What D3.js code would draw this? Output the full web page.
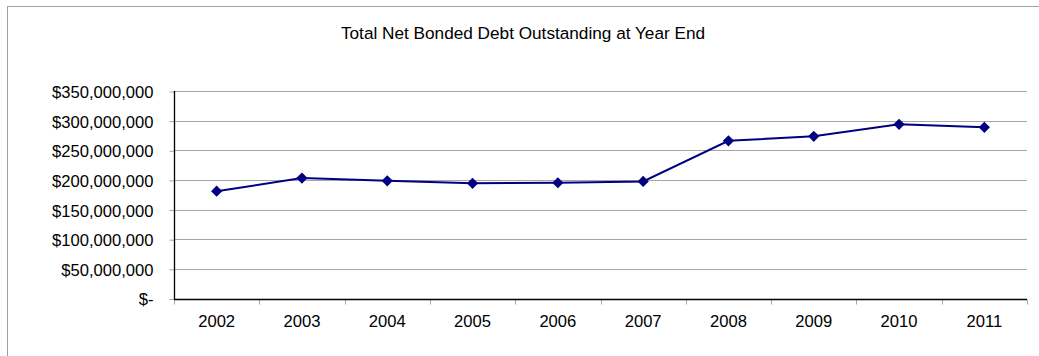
<!DOCTYPE html>
<html>
<head>
<meta charset="utf-8">
<script src="https://cdn.jsdelivr.net/npm/d3@7"></script>
<style>
  html, body { margin: 0; padding: 0; background: #fff; }
  svg { display: block; }
  text { font-family: "Liberation Sans", Arial, sans-serif; fill: #000; }
</style>
</head>
<body>
<svg id="chart" width="1039" height="356"></svg>
<script>
// Year-end totals of net bonded debt outstanding
const years = ["2002", "2003", "2004", "2005", "2006", "2007", "2008", "2009", "2010", "2011"];
const debt = [181000000, 203100000, 198500000, 194200000, 195200000, 197500000, 266000000, 273500000, 293800000, 288700000];
const yTicks = [0, 50000000, 100000000, 150000000, 200000000, 250000000, 300000000, 350000000];
const title = "Total Net Bonded Debt Outstanding at Year End";

const svg = d3.select("#chart");
const W = 1039, H = 356;
const plot = { left: 174, right: 1027, top: 91, bottom: 298.5 };

// Outer chart frame (runs off the right and bottom edges)
svg.append("rect")
  .attr("x", 7.5).attr("y", 6.5)
  .attr("width", W + 20).attr("height", H + 20)
  .attr("fill", "#fff").attr("stroke", "#a0a0a0").attr("stroke-width", 1);

svg.append("text")
  .attr("x", 523).attr("y", 39)
  .attr("text-anchor", "middle")
  .style("font-size", "17.2px")
  .text(title);

const x = d3.scaleBand().domain(years).range([plot.left, plot.right]).padding(0);
const y = d3.scaleLinear().domain([0, 350000000]).range([plot.bottom, plot.top]);

const fmt = v => v === 0 ? "$-" : "$" + d3.format(",")(v);

// Horizontal gridlines
svg.append("g")
  .selectAll("line")
  .data(yTicks.filter(t => t > 0))
  .join("line")
  .attr("x1", plot.left).attr("x2", plot.right)
  .attr("y1", d => Math.round(y(d)) + 0.5).attr("y2", d => Math.round(y(d)) + 0.5)
  .attr("stroke", "#a6a6a6").attr("stroke-width", 1);

// Y axis
const yAxis = d3.axisLeft(y).tickValues(yTicks).tickFormat(fmt).tickSize(5).tickPadding(16);
const gy = svg.append("g")
  .attr("transform", `translate(${plot.left + 0.5},0.5)`)
  .call(yAxis);
gy.select(".domain").remove();
gy.selectAll(".tick line").attr("stroke", "#a6a6a6");
gy.selectAll(".tick text")
  .style("font-size", "16.6px")
  .attr("dy", "0.36em");

// X axis: ticks at category boundaries
const bounds = years.map(d => x(d)).concat([plot.right]);
const gx = svg.append("g").attr("transform", `translate(0,${Math.round(plot.bottom) + 0.5})`);
gx.selectAll("line.tk")
  .data(bounds)
  .join("line")
  .attr("class", "tk")
  .attr("x1", d => Math.round(d) + 0.5).attr("x2", d => Math.round(d) + 0.5)
  .attr("y1", 0).attr("y2", 5)
  .attr("stroke", "#a6a6a6");
gx.selectAll("text")
  .data(years)
  .join("text")
  .attr("x", d => x(d) + x.bandwidth() / 2)
  .attr("y", 27)
  .attr("text-anchor", "middle")
  .style("font-size", "16.6px")
  .text(d => d);

// Axis lines
svg.append("line")
  .attr("x1", plot.left + 0.5).attr("x2", plot.left + 0.5)
  .attr("y1", plot.top).attr("y2", Math.round(plot.bottom) + 0.5)
  .attr("stroke", "#000").attr("stroke-width", 1.3);
svg.append("line")
  .attr("x1", plot.left).attr("x2", plot.right)
  .attr("y1", Math.round(plot.bottom) + 0.5).attr("y2", Math.round(plot.bottom) + 0.5)
  .attr("stroke", "#000").attr("stroke-width", 1.3);

// Series line and diamond markers
const pts = years.map((yr, i) => [x(yr) + x.bandwidth() / 2, y(debt[i])]);
svg.append("path")
  .attr("d", d3.line()(pts))
  .attr("fill", "none")
  .attr("stroke", "#000080")
  .attr("stroke-width", 2);

svg.append("g")
  .selectAll("path")
  .data(pts)
  .join("path")
  .attr("transform", d => `translate(${d[0]},${d[1]})`)
  .attr("d", "M0,-5.6L5.6,0L0,5.6L-5.6,0Z")
  .attr("fill", "#000080");
</script>
</body>
</html>
